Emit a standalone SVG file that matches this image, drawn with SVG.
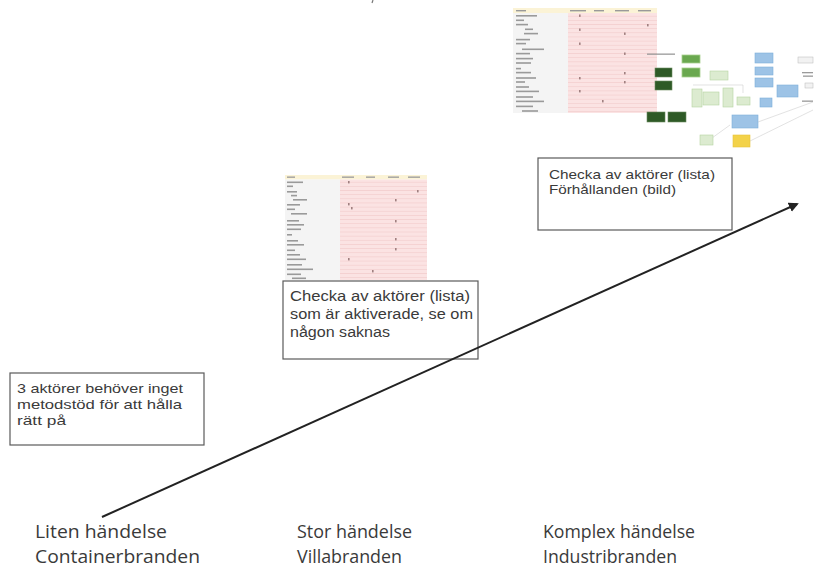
<svg xmlns="http://www.w3.org/2000/svg" width="814" height="575" viewBox="0 0 814 575">
  <style>
    .lbl { font-family: "Open Sans", "Liberation Sans", sans-serif; fill: #3a3a3a; }
    .note { font-family: "Liberation Sans", "Open Sans", sans-serif; fill: #3a3a3a; }
    .mid { font-size: 15.5px; }
    .big { font-size: 18px; }
    .sm { font-size: 12.8px; }
    .box { fill: #ffffff; stroke: #5a5a5a; stroke-width: 1.2; }
    .hdr { fill: #fbf3d6; }
    .leftcol { fill: #f4f4f4; }
    .tbar { fill: #9a9a9a; }
    .mark { fill: #a08080; }
    .dg { fill: #2f5a28; stroke: #6a8a60; stroke-width: 0.6; }
    .mg { fill: #6aa84f; stroke: #a9d08e; stroke-width: 0.8; }
    .lg { fill: #dcebd0; stroke: #b6d3a0; stroke-width: 0.6; }
    .bl { fill: #9dc3e6; stroke: #7eaedb; stroke-width: 0.6; }
    .yl { fill: #f3d24a; stroke: #e8c23a; stroke-width: 0.6; }
    .gb { fill: #f2f2f2; stroke: #b8b8b8; stroke-width: 0.5; }
    .faint { stroke: #d6d6d6; stroke-width: 0.7; fill: none; }
  </style>
  <defs>
    <pattern id="pinkRows" x="0" y="0" width="10" height="4.15" patternUnits="userSpaceOnUse">
      <rect width="10" height="4.15" fill="#fbe3e3"/>
      <rect y="3.4" width="10" height="0.75" fill="#f4cfcf"/>
    </pattern>
    <filter id="soft" x="-5%" y="-5%" width="110%" height="110%">
      <feGaussianBlur stdDeviation="0.7"/>
    </filter>
    <marker id="head" viewBox="0 0 10 10" refX="8" refY="5" markerWidth="5" markerHeight="5" orient="auto">
      <path d="M0,0 L10,5 L0,10 z" fill="#222"/>
    </marker>
  </defs>

  <rect width="814" height="575" fill="#ffffff"/>

  <!-- tiny stroke at the top edge -->
  <path d="M373,0 L372,3" stroke="#777" stroke-width="1.2"/>

  <!-- actor checklist, large version -->
  <g id="checklist-large" filter="url(#soft)">
    <rect x="513" y="8" width="144" height="5" class="hdr"/>
    <rect x="513" y="13" width="55" height="100" class="leftcol"/>
    <rect x="568" y="13" width="89" height="100" fill="url(#pinkRows)"/>
    <rect x="516" y="10" width="10" height="1.4" class="tbar"/>
    <rect x="570" y="10" width="16" height="1.4" class="tbar"/>
    <rect x="594" y="10" width="10" height="1.4" class="tbar"/>
    <rect x="615" y="10" width="14" height="1.4" class="tbar"/>
    <rect x="638" y="10" width="13" height="1.4" class="tbar"/>
    <rect x="516" y="15" width="21" height="1.6" class="tbar"/>
    <rect x="516" y="19.5" width="8" height="1.6" class="tbar"/>
    <rect x="516" y="23.8" width="12" height="1.6" class="tbar"/>
    <rect x="525" y="28.5" width="8" height="1.6" class="tbar"/>
    <rect x="524" y="32.8" width="14" height="1.6" class="tbar"/>
    <rect x="516" y="38.8" width="14" height="1.6" class="tbar"/>
    <rect x="516" y="42.8" width="10" height="1.6" class="tbar"/>
    <rect x="522" y="48.5" width="22" height="1.6" class="tbar"/>
    <rect x="516" y="52.8" width="14" height="1.6" class="tbar"/>
    <rect x="516" y="57.8" width="17" height="1.6" class="tbar"/>
    <rect x="516" y="62.2" width="15" height="1.6" class="tbar"/>
    <rect x="516" y="67.8" width="5" height="1.6" class="tbar"/>
    <rect x="516" y="71.8" width="15" height="1.6" class="tbar"/>
    <rect x="516" y="77.2" width="20" height="1.6" class="tbar"/>
    <rect x="516" y="81.2" width="9" height="1.6" class="tbar"/>
    <rect x="516" y="86.2" width="13" height="1.6" class="tbar"/>
    <rect x="516" y="90.6" width="23" height="1.6" class="tbar"/>
    <rect x="516" y="96.2" width="17" height="1.6" class="tbar"/>
    <rect x="516" y="100.6" width="28" height="1.6" class="tbar"/>
    <rect x="516" y="105.6" width="17" height="1.6" class="tbar"/>
    <rect x="522" y="110.2" width="16" height="1.6" class="tbar"/>
    <rect x="579" y="14.5" width="1.6" height="2.4" class="mark"/>
    <rect x="579" y="28.5" width="1.6" height="2.4" class="mark"/>
    <rect x="624" y="32.5" width="1.6" height="2.4" class="mark"/>
    <rect x="647" y="24" width="1.6" height="2.4" class="mark"/>
    <rect x="579" y="42.5" width="1.6" height="2.4" class="mark"/>
    <rect x="624" y="52.5" width="1.6" height="2.4" class="mark"/>
    <rect x="624" y="72" width="1.6" height="2.4" class="mark"/>
    <rect x="579" y="77" width="1.6" height="2.4" class="mark"/>
    <rect x="624" y="81" width="1.6" height="2.4" class="mark"/>
    <rect x="579" y="90" width="1.6" height="2.4" class="mark"/>
    <rect x="602" y="100" width="1.6" height="2.4" class="mark"/>
  </g>

  <!-- relationship chart -->
  <g id="relation-chart" filter="url(#soft)">
    <path class="faint" d="M693,85 L743,85 L743,93"/>
    <path class="faint" d="M758,122 L813,102"/>
    <path class="faint" d="M750,141 L813,110"/>
    <path class="faint" d="M730,125 L712,138"/>
    <rect x="647" y="53.5" width="28" height="1.3" class="tbar"/>
    <rect x="682" y="55" width="18" height="8" class="mg"/>
    <rect x="682" y="68" width="18" height="9" class="mg"/>
    <rect x="655" y="68" width="17" height="9" class="dg"/>
    <rect x="655" y="81" width="17" height="9" class="dg"/>
    <rect x="710" y="71" width="18" height="9" class="lg"/>
    <rect x="692" y="89" width="10" height="18" class="lg"/>
    <rect x="703" y="92" width="16" height="13" class="lg"/>
    <rect x="723" y="88" width="10" height="19" class="lg"/>
    <rect x="737" y="97" width="13" height="8" class="lg"/>
    <rect x="647" y="112" width="18" height="10" class="dg"/>
    <rect x="668" y="112" width="18" height="10" class="dg"/>
    <rect x="755" y="53" width="18" height="10" class="bl"/>
    <rect x="755" y="67" width="18" height="8" class="bl"/>
    <rect x="755" y="78" width="18" height="9" class="bl"/>
    <rect x="777" y="85" width="21" height="12" class="bl"/>
    <rect x="760" y="98" width="12" height="9" class="bl"/>
    <rect x="732" y="115" width="26" height="13" class="bl"/>
    <rect x="700" y="135" width="13" height="10" class="lg"/>
    <rect x="733" y="135" width="17" height="12" class="yl"/>
    <rect x="798" y="57" width="15" height="6" class="gb"/>
    <rect x="802" y="72" width="11" height="1.3" class="tbar"/>
    <rect x="803" y="75.5" width="10" height="1.3" class="tbar"/>
    <rect x="805" y="83" width="8" height="5" class="gb"/>
    <rect x="802" y="100.5" width="11" height="1.3" class="tbar"/>
  </g>

  <!-- actor checklist, small version -->
  <g id="checklist-small" filter="url(#soft)">
    <rect x="285" y="175" width="142" height="4.5" class="hdr"/>
    <rect x="285" y="179.5" width="55" height="100.5" class="leftcol"/>
    <rect x="340" y="179.5" width="87" height="100.5" fill="url(#pinkRows)"/>
    <rect x="287" y="176.5" width="8" height="1.3" class="tbar"/>
    <rect x="342" y="176.5" width="12" height="1.3" class="tbar"/>
    <rect x="366" y="176.5" width="9" height="1.3" class="tbar"/>
    <rect x="388" y="176.5" width="11" height="1.3" class="tbar"/>
    <rect x="408" y="176.5" width="12" height="1.3" class="tbar"/>
    <rect x="287" y="181.5" width="16" height="1.6" class="tbar"/>
    <rect x="287" y="185.5" width="6" height="1.6" class="tbar"/>
    <rect x="287" y="191" width="10" height="1.6" class="tbar"/>
    <rect x="291" y="194.8" width="6" height="1.6" class="tbar"/>
    <rect x="293" y="199" width="14" height="1.6" class="tbar"/>
    <rect x="287" y="204" width="13" height="1.6" class="tbar"/>
    <rect x="287" y="208.5" width="8" height="1.6" class="tbar"/>
    <rect x="291" y="213" width="16" height="1.6" class="tbar"/>
    <rect x="287" y="220" width="12" height="1.6" class="tbar"/>
    <rect x="287" y="224" width="17" height="1.6" class="tbar"/>
    <rect x="287" y="228.5" width="14" height="1.6" class="tbar"/>
    <rect x="287" y="234" width="5" height="1.6" class="tbar"/>
    <rect x="287" y="240" width="11" height="1.6" class="tbar"/>
    <rect x="287" y="244" width="17" height="1.6" class="tbar"/>
    <rect x="287" y="249.5" width="8" height="1.6" class="tbar"/>
    <rect x="287" y="254" width="13" height="1.6" class="tbar"/>
    <rect x="287" y="258.5" width="19" height="1.6" class="tbar"/>
    <rect x="287" y="264" width="15" height="1.6" class="tbar"/>
    <rect x="287" y="268.5" width="26" height="1.6" class="tbar"/>
    <rect x="287" y="273.5" width="14" height="1.6" class="tbar"/>
    <rect x="292" y="277.5" width="14" height="1.6" class="tbar"/>
    <rect x="348" y="181" width="1.6" height="2.4" class="mark"/>
    <rect x="417" y="190" width="1.6" height="2.4" class="mark"/>
    <rect x="395" y="199" width="1.6" height="2.4" class="mark"/>
    <rect x="348" y="203" width="1.6" height="2.4" class="mark"/>
    <rect x="351" y="207" width="1.6" height="2.4" class="mark"/>
    <rect x="395" y="220" width="1.6" height="2.4" class="mark"/>
    <rect x="395" y="238" width="1.6" height="2.4" class="mark"/>
    <rect x="395" y="248" width="1.6" height="2.4" class="mark"/>
    <rect x="348" y="258" width="1.6" height="2.4" class="mark"/>
    <rect x="372" y="270" width="1.6" height="2.4" class="mark"/>
  </g>

  <!-- note boxes -->
  <g id="note-small">
    <rect x="10" y="373" width="194" height="72" class="box"/>
    <text class="note sm" x="17" y="393" textLength="166" lengthAdjust="spacingAndGlyphs">3 aktörer behöver inget</text>
    <text class="note sm" x="17" y="409" textLength="165" lengthAdjust="spacingAndGlyphs">metodstöd för att hålla</text>
    <text class="note sm" x="17" y="425" textLength="49" lengthAdjust="spacingAndGlyphs">rätt på</text>
  </g>

  <g id="note-large">
    <rect x="283" y="281" width="195" height="78" class="box"/>
    <text class="note mid" x="290" y="301" textLength="180" lengthAdjust="spacingAndGlyphs">Checka av aktörer (lista)</text>
    <text class="note mid" x="290" y="319" textLength="183" lengthAdjust="spacingAndGlyphs">som är aktiverade, se om</text>
    <text class="note mid" x="290" y="337" textLength="100" lengthAdjust="spacingAndGlyphs">någon saknas</text>
  </g>

  <g id="note-complex">
    <rect x="538" y="158" width="194" height="72" class="box"/>
    <text class="note sm" x="549" y="179" textLength="166" lengthAdjust="spacingAndGlyphs">Checka av aktörer (lista)</text>
    <text class="note sm" x="549" y="194" textLength="127" lengthAdjust="spacingAndGlyphs">Förhållanden (bild)</text>
  </g>

  <!-- growth axis -->
  <g id="connectors">
    <line x1="102" y1="517" x2="797" y2="204" stroke="#222" stroke-width="2" marker-end="url(#head)"/>
  </g>

  <!-- scale labels -->
  <g id="label-small">
    <text class="lbl big" x="35" y="538" textLength="132" lengthAdjust="spacingAndGlyphs">Liten händelse</text>
    <text class="lbl big" x="35" y="563" textLength="165" lengthAdjust="spacingAndGlyphs">Containerbranden</text>
  </g>
  <g id="label-large">
    <text class="lbl big" x="297" y="538" textLength="115" lengthAdjust="spacingAndGlyphs">Stor händelse</text>
    <text class="lbl big" x="297" y="563" textLength="105" lengthAdjust="spacingAndGlyphs">Villabranden</text>
  </g>
  <g id="label-complex">
    <text class="lbl big" x="543" y="538" textLength="152" lengthAdjust="spacingAndGlyphs">Komplex händelse</text>
    <text class="lbl big" x="543" y="563" textLength="134" lengthAdjust="spacingAndGlyphs">Industribranden</text>
  </g>
</svg>
